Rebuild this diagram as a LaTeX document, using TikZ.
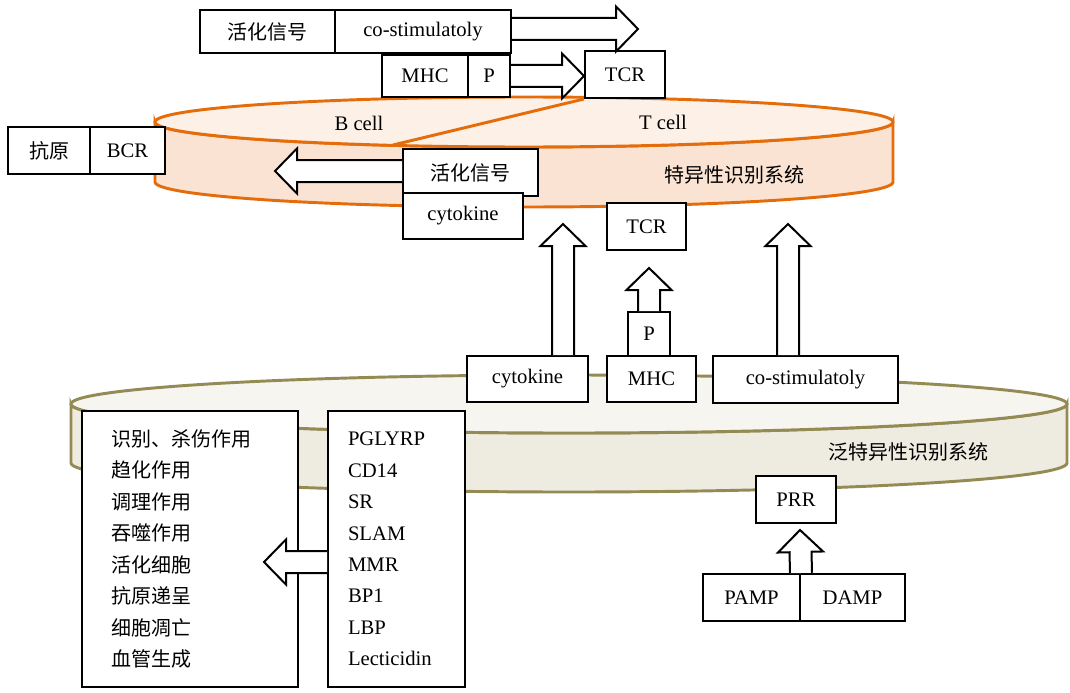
\documentclass[tikz,border=0pt]{standalone}
\usepackage{fontspec}
\setmainfont{Liberation Serif}
\newfontfamily\cjk{Noto Sans CJK SC}
\usetikzlibrary{calc}
\definecolor{cellline}{HTML}{E46C0A}
\definecolor{celltop}{HTML}{FDF0E7}
\definecolor{cellside}{HTML}{FBE3D3}
\definecolor{innateline}{HTML}{948A54}
\definecolor{innatetop}{HTML}{F6F5EF}
\definecolor{innateside}{HTML}{EEECE1}

\tikzset{
  box/.style={draw, fill=white, line width=1.5pt, inner sep=0pt, minimum height=35.25pt, font=\fontsize{15.5}{18}\selectfont},
  zh/.style={font=\fontsize{15}{18}\selectfont\cjk},
  fat/.style={draw, fill=white, line width=1.5pt, line join=miter},
  lbl/.style={font=\fontsize{15.5}{18}\selectfont},
}
% hollow block arrow from #1 to the tip #2
\newcommand{\fatarrow}[2]{%
  \draw[fat] ($(#1)!8.25pt!90:(#2)$) -- ($($(#2)!16.5pt!(#1)$)!8.25pt!90:(#2)$)
    -- ($($(#2)!16.5pt!(#1)$)!16.9pt!90:(#2)$) -- (#2)
    -- ($($(#2)!16.5pt!(#1)$)!16.9pt!-90:(#2)$) -- ($($(#2)!16.5pt!(#1)$)!8.25pt!-90:(#2)$)
    -- ($(#1)!8.25pt!-90:(#2)$);}

\begin{document}
\begin{tikzpicture}[x=0.75pt, y=-0.75pt]
\useasboundingbox (0,0) rectangle (1070,692);

% specific recognition (cells)
\filldraw[fill=cellside, draw=cellline, line width=2.2pt] (155,122) -- (155,182) arc[start angle=180, end angle=0, x radius=369, y radius=25] -- (893,122) arc[start angle=0, end angle=180, x radius=369, y radius=25] -- cycle;
\filldraw[fill=celltop, draw=cellline, line width=2.2pt] (524,122) ellipse[x radius=369, y radius=25];
\node[lbl] (bcell) at (359,123) {B cell};
\node[lbl] (tcell) at (663,122) {T cell};
\node[zh] (specific) at (734,175) {特异性识别系统};

% innate recognition
\filldraw[fill=innateside, draw=innateline, line width=2.2pt] (71,404) -- (71,463) arc[start angle=180, end angle=0, x radius=498, y radius=29] -- (1067,404) arc[start angle=0, end angle=180, x radius=498, y radius=29] -- cycle;
\filldraw[fill=innatetop, draw=innateline, line width=2.2pt] (569,404) ellipse[x radius=498, y radius=29];
\node[zh] (innate) at (908,452) {泛特异性识别系统};

% top signals
\node[box, zh, minimum width=101.25pt, minimum height=32.25pt] (sigA) at (267.5,31.5) {活化信号};
\node[box, minimum width=132pt, minimum height=32.25pt] (costimA) at (423,31.5) {co-stimulatoly};
\node[box, minimum width=64.5pt, minimum height=31.5pt] (mhcA) at (425,76) {MHC};
\node[box, minimum width=31.5pt, minimum height=31.5pt] (pA) at (489,76) {P};
\node[box, minimum width=60pt] (tcrA) at (625,74.5) {TCR};
\coordinate (cellcut) at (393,145);
\draw[cellline, line width=2.2pt] (tcrA.south west) -- (cellcut);

\node[box, zh, minimum width=61.5pt] (antigen) at (49,150.5) {抗原};
\node[box, minimum width=56.25pt] (bcr) at (127.5,150.5) {BCR};
\node[box, zh, minimum width=101.25pt] (sigB) at (470.5,172.5) {活化信号};
\node[box, minimum width=90pt, minimum height=34.5pt] (cytoB) at (463,216) {cytokine};
\node[box, minimum width=59.25pt] (tcrB) at (646.5,226.5) {TCR};

% innate molecules
\node[box, minimum width=90.75pt, minimum height=34.5pt] (cytoC) at (527.5,379) {cytokine};
\node[box, minimum width=66.75pt, minimum height=34.5pt] (mhcC) at (651.5,379) {MHC};
\node[box, minimum width=31.5pt, minimum height=33pt] (pC) at (649,334) {P};
\node[box, minimum width=138.75pt] (costimC) at (805.5,379.5) {co-stimulatoly};

\node[box, zh, font=\fontsize{15}{23.6}\selectfont\cjk, minimum height=207pt, text width=118.5pt, inner xsep=21.75pt, align=left] (funcs) at (190,549) {识别、杀伤作用\\趋化作用\\调理作用\\吞噬作用\\活化细胞\\抗原递呈\\细胞凋亡\\血管生成};
\node[box, font=\fontsize{15.5}{23.6}\selectfont, minimum height=207pt, text width=72.75pt, inner xsep=15pt, align=left] (recep) at (396.5,549) {PGLYRP\\CD14\\SR\\SLAM\\MMR\\BP1\\LBP\\Lecticidin};

\node[box, minimum width=60pt] (prr) at (796,499.5) {PRR};
\node[box, minimum width=72.75pt] (pamp) at (751.5,597.5) {PAMP};
\node[box, minimum width=78.75pt] (damp) at (852.5,597.5) {DAMP};

% arrows
\coordinate (tipA) at (638,29);
\coordinate (tipB) at (275,171);
\coordinate (tipC) at (563,224);
\coordinate (tipD) at (649,268);
\coordinate (tipE) at (788,224);
\coordinate (tipF) at (264,562);
\coordinate (tipG) at (800,530);
\fatarrow{costimA.east |- tipA}{tipA}
\fatarrow{pA.east}{tcrA.west |- pA.east}
\fatarrow{sigB.west |- tipB}{tipB}
\fatarrow{cytoC.north -| tipC}{tipC}
\fatarrow{pC.north}{tipD}
\fatarrow{costimC.north -| tipE}{tipE}
\fatarrow{recep.west |- tipF}{tipF}
\fatarrow{pamp.north east}{tipG}
\end{tikzpicture}
\end{document}
